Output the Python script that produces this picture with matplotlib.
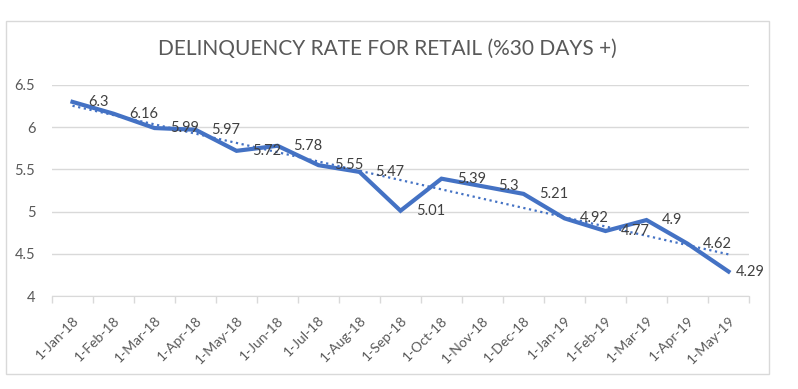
import matplotlib.pyplot as plt
import matplotlib.patches as patches
import numpy as np

months = ["1-Jan-18", "1-Feb-18", "1-Mar-18", "1-Apr-18", "1-May-18", "1-Jun-18",
          "1-Jul-18", "1-Aug-18", "1-Sep-18", "1-Oct-18", "1-Nov-18", "1-Dec-18",
          "1-Jan-19", "1-Feb-19", "1-Mar-19", "1-Apr-19", "1-May-19"]
rates = [6.3, 6.16, 5.99, 5.97, 5.72, 5.78, 5.55, 5.47, 5.01, 5.39, 5.3, 5.21,
         4.92, 4.77, 4.9, 4.62, 4.29]

blue = "#4472C4"
gray = "#595959"
plt.rcParams["font.family"] = ["Lato", "DejaVu Sans"]

fig = plt.figure(figsize=(7.98, 3.89), dpi=100)
fig.patches.append(patches.Rectangle((6 / 798, 1 - 374 / 389), 763 / 798, 353 / 389,
                                     transform=fig.transFigure, fill=False,
                                     edgecolor="#D9D9D9", linewidth=1))
ax = fig.add_axes([52 / 798, 1 - 296 / 389, 697 / 798, 211 / 389])

x = np.arange(len(rates))
ax.plot(x, rates, color=blue, linewidth=3, solid_joinstyle="miter", zorder=3)

# linear trendline like Excel's
k, b = np.polyfit(x, rates, 1)
ax.plot(x, k * x + b, color=blue, linewidth=1.6, linestyle=(0, (1, 1.6)), zorder=2)

for xi, v in zip(x, rates):
    # Excel pulls the last label in so it stays inside the chart
    off = 5 if xi == len(rates) - 1 else 11
    ax.annotate(f"{v:g}", (xi, v), xytext=(off, 0), textcoords="offset points",
                ha="left", va="center", fontsize=10.5, color="#404040", zorder=4)

ax.set_xlim(-0.5, len(rates) - 0.5)
ax.set_ylim(4, 6.5)
ax.set_yticks([4, 4.5, 5, 5.5, 6, 6.5])
ax.set_yticklabels(["4", "4.5", "5", "5.5", "6", "6.5"])
ax.yaxis.grid(True, color="#D9D9D9", linewidth=1)
ax.set_axisbelow(True)

ax.set_xticks(x)
ax.set_xticklabels(months, rotation=45, ha="right", rotation_mode="anchor")
ax.set_xticks(np.arange(-0.5, len(rates)), minor=True)
ax.tick_params(axis="x", which="major", length=0, pad=13, labelsize=10, labelcolor=gray)
ax.tick_params(axis="x", which="minor", length=5, color="#D9D9D9", width=1)
ax.tick_params(axis="y", length=0, pad=12, labelsize=10.5, labelcolor=gray)

for s in ["top", "right", "left"]:
    ax.spines[s].set_visible(False)
ax.spines["bottom"].set_color("#D9D9D9")

fig.text(387 / 798, 1 - 49 / 389, "DELINQUENCY RATE FOR RETAIL (%30 DAYS +)",
         ha="center", va="center", fontsize=15, color=gray)

fig.savefig("out.png", dpi=100)
